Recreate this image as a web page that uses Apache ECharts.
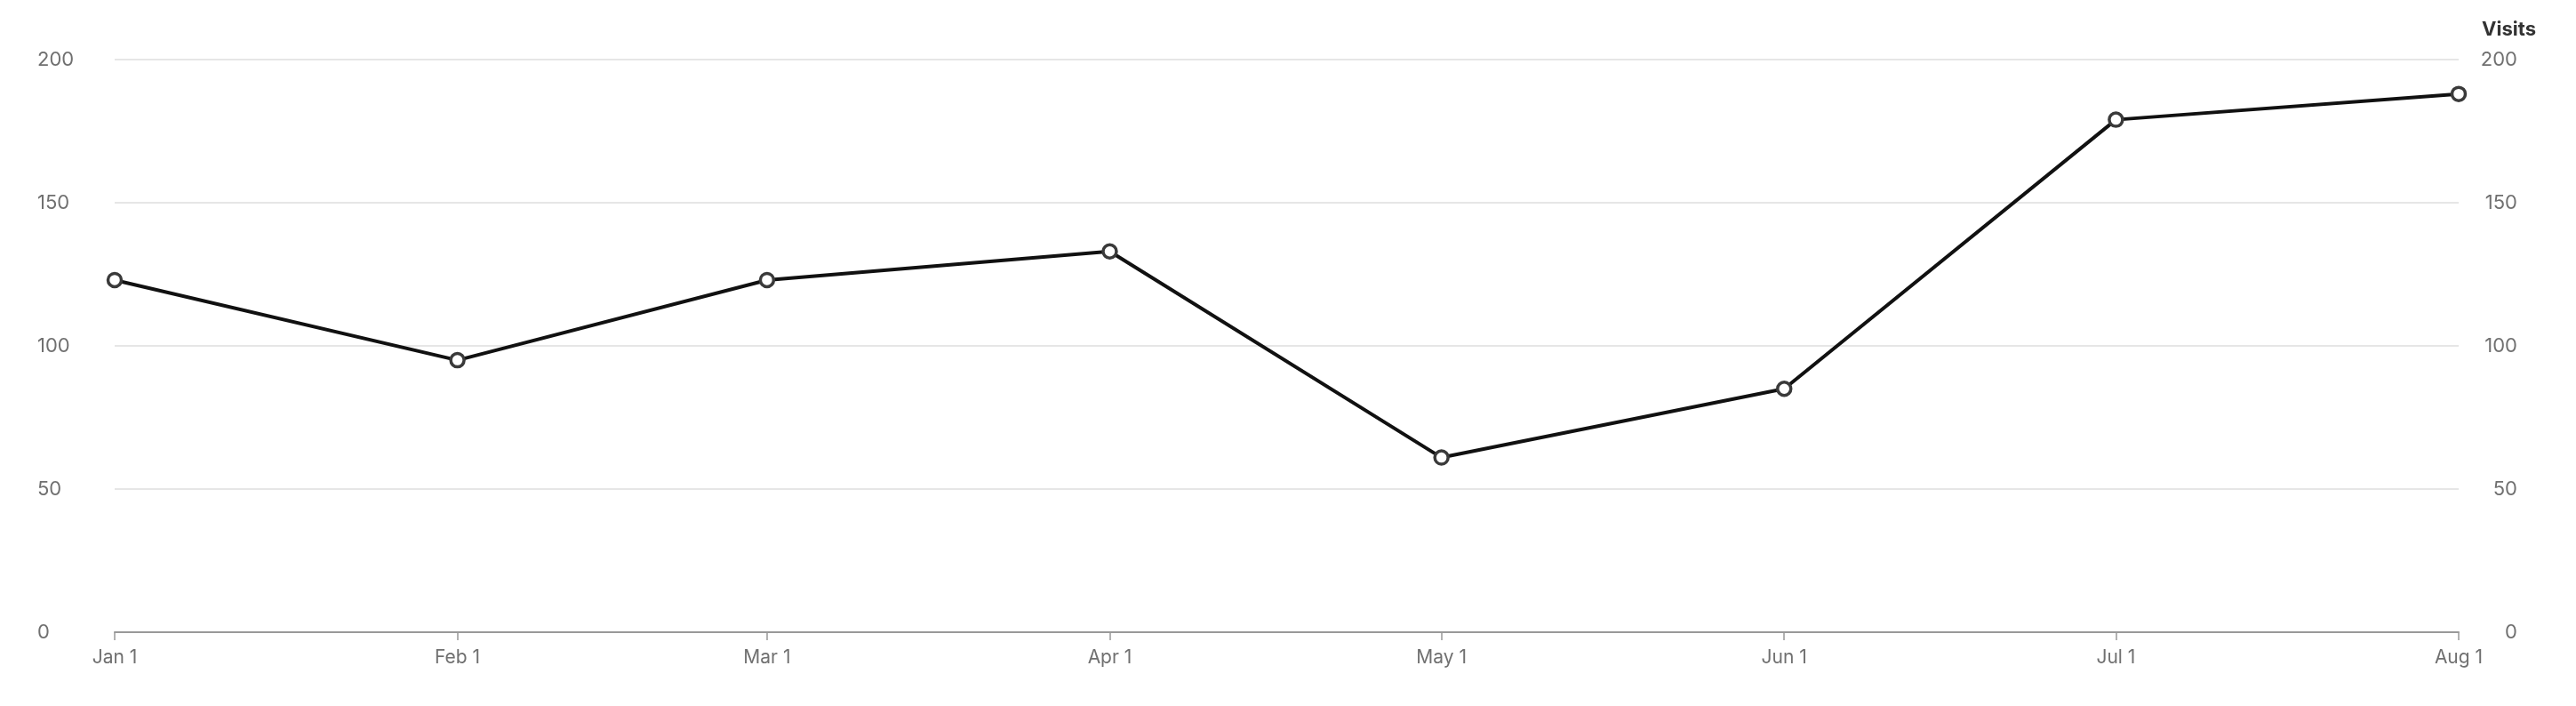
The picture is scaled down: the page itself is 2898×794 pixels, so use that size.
<!DOCTYPE html>
<html>
<head>
<meta charset="utf-8">
<script src="https://cdn.jsdelivr.net/npm/echarts@6/dist/echarts.min.js"></script>
<style>
html,body{margin:0;padding:0;background:#fff;}
#chart{width:2898px;height:794px;}
</style>
</head>
<body>
<div id="chart"></div>
<script>
const dates = ['2023-01-01','2023-02-01','2023-03-01','2023-04-01','2023-05-01','2023-06-01','2023-07-01','2023-08-01'];
const visits = [123, 95, 123, 133, 61, 85, 179, 188];
const yTicks = [0, 50, 100, 150, 200];
const monthNames = ['Jan','Feb','Mar','Apr','May','Jun','Jul','Aug','Sep','Oct','Nov','Dec'];
const axisName = 'Visits';

const seriesData = dates.map((d, i) => [d, visits[i]]);
const font = 'Inter, "Noto Sans", sans-serif';
const day = 86400000;

const chart = echarts.init(document.getElementById('chart'));
chart.setOption({
  animation: false,
  textStyle: { fontFamily: font },
  title: {
    text: axisName,
    right: 40,
    top: 17,
    textStyle: { fontFamily: font, fontSize: 22, fontWeight: 'bold', color: '#333' }
  },
  grid: { left: 129, right: 132, top: 67, bottom: 83, containLabel: false },
  xAxis: {
    type: 'time',
    min: dates[0],
    max: dates[dates.length - 1],
    minInterval: 28 * day,
    maxInterval: 31 * day,
    axisLine: { lineStyle: { color: '#999', width: 2 } },
    axisTick: { show: true, length: 9, lineStyle: { color: '#999', width: 1.5 } },
    splitLine: { show: false },
    axisLabel: {
      color: '#707070', fontSize: 21, fontFamily: font, margin: 18,
      formatter: v => { const d = new Date(v); return monthNames[d.getMonth()] + ' ' + d.getDate(); },
      showMinLabel: true, showMaxLabel: true
    }
  },
  yAxis: [
    {
      type: 'value', min: yTicks[0], max: yTicks[yTicks.length - 1], interval: 50,
      position: 'left',
      axisLine: { show: false }, axisTick: { show: false },
      splitLine: { lineStyle: { color: '#e6e6e6', width: 2 } },
      axisLabel: { color: '#707070', fontSize: 22, fontFamily: font, align: 'left', margin: 87 }
    },
    {
      type: 'value', min: yTicks[0], max: yTicks[yTicks.length - 1], interval: 50,
      position: 'right',
      axisLine: { show: false }, axisTick: { show: false },
      splitLine: { show: false },
      axisLabel: { color: '#707070', fontSize: 22, fontFamily: font, align: 'right', margin: 66 }
    }
  ],
  series: [{
    type: 'line',
    yAxisIndex: 0,
    data: seriesData,
    lineStyle: { color: '#111', width: 4 },
    symbol: 'circle',
    symbolSize: 15,
    showAllSymbol: true,
    itemStyle: { color: '#fff', borderColor: '#3a3a3a', borderWidth: 3.5 }
  }]
});
</script>
</body>
</html>
